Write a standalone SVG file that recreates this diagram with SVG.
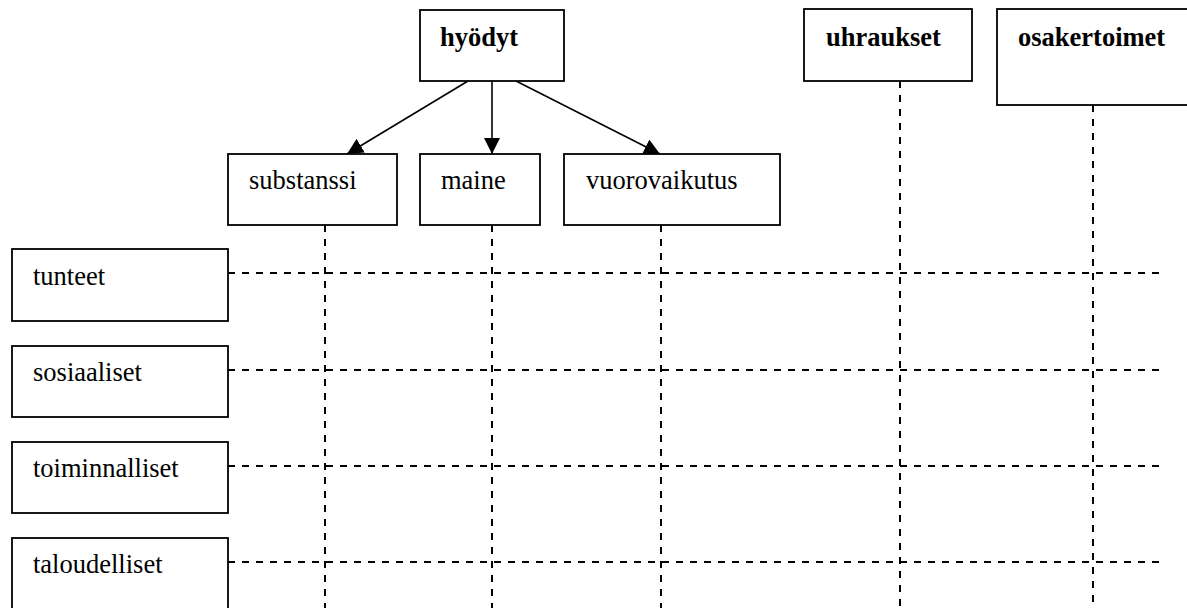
<svg xmlns="http://www.w3.org/2000/svg" width="1187" height="608" viewBox="0 0 1187 608">
  <style>
    .box { fill: #ffffff; stroke: #000000; stroke-width: 1.8; }
    .lbl { font-family: "Liberation Serif", "Times New Roman", serif; font-size: 26.5px; fill: #000000; }
    .head { font-weight: bold; }
    .arrow { stroke: #000000; stroke-width: 1.6; fill: none; marker-end: url(#tip); }
    .grid { stroke: #000000; stroke-width: 2; stroke-dasharray: 7 7; fill: none; }
  </style>
  <defs>
    <marker id="tip" viewBox="0 0 16 16" refX="16" refY="8" markerWidth="16" markerHeight="16" markerUnits="userSpaceOnUse" orient="auto">
      <path d="M0,0 L16,8 L0,16 Z" fill="#000000"/>
    </marker>
  </defs>

  <rect width="1187" height="608" fill="#ffffff"/>

  <!-- connectors: arrows from the top node and the dashed grid -->
  <g id="connectors">
    <line class="arrow" x1="468" y1="81" x2="347" y2="154"/>
    <line class="arrow" x1="492" y1="81" x2="492" y2="154"/>
    <line class="arrow" x1="516" y1="81" x2="660" y2="154"/>

    <line class="grid" x1="228" y1="273" x2="1160" y2="273"/>
    <line class="grid" x1="228" y1="370" x2="1160" y2="370"/>
    <line class="grid" x1="228" y1="466" x2="1160" y2="466"/>
    <line class="grid" x1="228" y1="562" x2="1160" y2="562"/>

    <line class="grid" x1="325" y1="225" x2="325" y2="608"/>
    <line class="grid" x1="492" y1="225" x2="492" y2="608"/>
    <line class="grid" x1="661" y1="225" x2="661" y2="608"/>
    <line class="grid" x1="900" y1="81" x2="900" y2="608"/>
    <line class="grid" x1="1093" y1="105" x2="1093" y2="608"/>
  </g>

  <g id="hyodyt">
    <rect class="box" x="420" y="10" width="144" height="71"/>
    <text class="lbl head" x="440" y="46">hyödyt</text>
  </g>
  <g id="uhraukset">
    <rect class="box" x="804" y="9" width="168" height="72"/>
    <text class="lbl head" x="826" y="46">uhraukset</text>
  </g>
  <g id="osakertoimet">
    <rect class="box" x="997" y="9" width="200" height="96"/>
    <text class="lbl head" x="1018" y="46">osakertoimet</text>
  </g>

  <g id="substanssi">
    <rect class="box" x="228" y="154" width="169" height="71"/>
    <text class="lbl" x="249" y="189">substanssi</text>
  </g>
  <g id="maine">
    <rect class="box" x="420" y="154" width="120" height="71"/>
    <text class="lbl" x="441" y="189">maine</text>
  </g>
  <g id="vuorovaikutus">
    <rect class="box" x="564" y="154" width="216" height="71"/>
    <text class="lbl" x="586" y="189">vuorovaikutus</text>
  </g>

  <g id="tunteet">
    <rect class="box" x="12" y="249" width="216" height="72"/>
    <text class="lbl" x="33" y="285">tunteet</text>
  </g>
  <g id="sosiaaliset">
    <rect class="box" x="12" y="346" width="216" height="71"/>
    <text class="lbl" x="33" y="381">sosiaaliset</text>
  </g>
  <g id="toiminnalliset">
    <rect class="box" x="12" y="442" width="216" height="71"/>
    <text class="lbl" x="33" y="477">toiminnalliset</text>
  </g>
  <g id="taloudelliset">
    <rect class="box" x="12" y="538" width="216" height="90"/>
    <text class="lbl" x="33" y="573">taloudelliset</text>
  </g>
</svg>
